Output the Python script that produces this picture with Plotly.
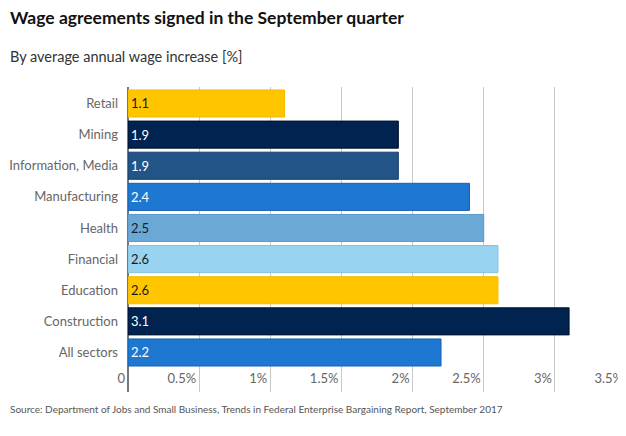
import plotly.graph_objects as go

categories = ["Retail", "Mining", "Information, Media", "Manufacturing", "Health",
              "Financial", "Education", "Construction", "All sectors"]
values = [1.1, 1.9, 1.9, 2.4, 2.5, 2.6, 2.6, 3.1, 2.2]
bar_colors = ["#FFC600", "#00244F", "#235487", "#1E78D2", "#6AA9D6",
              "#98D3F2", "#FFC600", "#00244F", "#1E78D2"]
line_colors = ["#F2BB00", "#000F2A", "#173F6A", "#1562B0", "#5C98C4",
               "#86C0DE", "#F2BB00", "#000F2A", "#1562B0"]
text_colors = ["#1a1a1a", "#ffffff", "#ffffff", "#ffffff", "#1a1a1a",
               "#1a1a1a", "#1a1a1a", "#ffffff", "#ffffff"]
tick_vals = [0, 0.5, 1, 1.5, 2, 2.5, 3, 3.5]
tick_text = ["0", "0.5%", "1%", "1.5%", "2%", "2.5%", "3%", "3.5%"]

FONT = "Lato"

fig = go.Figure(go.Bar(
    x=values, y=categories, orientation="h",
    marker=dict(color=bar_colors, line=dict(color=line_colors, width=1)),
    text=[f"{v:.1f}" for v in values],
    textposition="inside", insidetextanchor="start",
    textfont=dict(family=FONT, size=13, color=text_colors),
    hoverinfo="skip",
))

# page body has an 8px default margin; figure coordinates = page coordinates - 8
OFF = 8
W, H = 626 - OFF, 436 - OFF
L, R, T, B = 128 - OFF, 0, 87 - OFF, 436 - 392
ph = H - T - B
pw = W - L - R

def py(ypix):
    return (H - B - (ypix - OFF)) / ph

def px(xpix):
    return ((xpix - OFF) - L) / pw

fig.update_layout(
    width=W, height=H,
    margin=dict(l=L, r=R, t=T, b=B, autoexpand=False),
    paper_bgcolor="white", plot_bgcolor="white",
    showlegend=False,
    bargap=0.13,
    font=dict(family=FONT),
    xaxis=dict(
        range=[0, 3.5], tickvals=tick_vals, ticktext=tick_text,
        showgrid=True, gridcolor="#c8c8c8", gridwidth=1,
        zeroline=True, zerolinecolor="#777777", zerolinewidth=2,
        ticklabelposition="inside left", ticklabeloverflow="allow",
        ticklabelshift=-3,
        tickfont=dict(family=FONT, size=13, color="#666666"),
        showline=False, ticks="", automargin=False,
    ),
    yaxis=dict(
        categoryorder="array", categoryarray=categories,
        range=[9.27, -0.53],
        tickfont=dict(family=FONT, size=13, color="#666666"),
        showgrid=False, zeroline=False, showline=False, ticks="",
        ticklabelstandoff=9, automargin=False,
    ),
    annotations=[
        dict(text="<b>Wage agreements signed in the September quarter</b>",
             xref="paper", yref="paper", x=px(8), y=py(18), xanchor="left", yanchor="middle",
             showarrow=False, font=dict(family=FONT, size=17.5, color="#111111")),
        dict(text="By average annual wage increase [%]",
             xref="paper", yref="paper", x=px(8), y=py(57), xanchor="left", yanchor="middle",
             showarrow=False, font=dict(family=FONT, size=14.5, color="#333333")),
        dict(text="Source: Department of Jobs and Small Business, Trends in Federal Enterprise Bargaining Report, September 2017",
             xref="paper", yref="paper", x=px(8), y=py(409), xanchor="left", yanchor="middle",
             showarrow=False, font=dict(family=FONT, size=10, color="#555555")),
    ],
)

fig.write_html("out.html")
